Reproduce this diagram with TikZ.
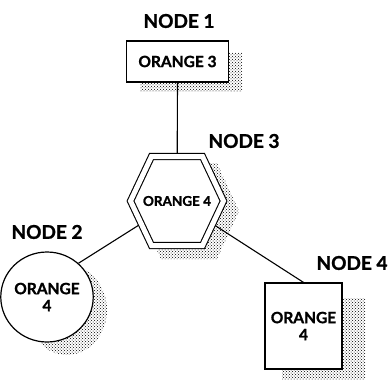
\documentclass[tikz,border=0pt]{standalone}
\usepackage{fontspec}
\setmainfont{Lato}[BoldFeatures={FakeBold=1.2}]
\usetikzlibrary{shapes.geometric,patterns}
\pgfdeclarelayer{shadowl}
\pgfdeclarelayer{linesl}
\pgfsetlayers{shadowl,linesl,main}
\begin{document}
\begin{tikzpicture}[x=1pt,y=-1pt,
  lbl/.style={font=\fontsize{19}{19}\selectfont\bfseries, inner sep=0pt},
  txt/.style={font=\fontsize{15.5}{17}\selectfont\bfseries, align=center},
  shade/.style={pattern=crosshatch dots, pattern color=black},
  box/.style={draw, line width=1.2pt, fill=white, rectangle, txt},
  conn/.style={draw, line width=1.1pt},
  hexs/.style={draw, line width=1.1pt, double=white, double distance=5pt}]
\useasboundingbox (0,0) rectangle (390,385);

% shadows
\begin{pgfonlayer}{shadowl}
  \fill[shade] (140,53) rectangle (242,92);
  \fill[shade] (139,211) -- (161,163) -- (217,163) -- (239,211) -- (217,259) -- (161,259) -- cycle;
  \fill[shade] (67,310) ellipse [x radius=40, y radius=45];
  \fill[shade] (282,298) rectangle (365,379);
\end{pgfonlayer}

% hexagon
\coordinate (hc) at (177,201);
\draw[hexs, fill=white] (130.5,201) -- (151.5,156.5) -- (202.5,156.5) -- (223.5,201) -- (202.5,245.5) -- (151.5,245.5) -- cycle;
\node[txt, font=\fontsize{13.5}{15}\selectfont\bfseries, inner sep=0pt] (hex) at (hc) {ORANGE 4};

% nodes
\node[box, minimum width=102pt, minimum height=41pt] (n1) at (177.5,61.5) {ORANGE 3};
\node[draw, line width=1.2pt, fill=white, ellipse, minimum width=80pt, minimum height=90pt, inner sep=0pt, txt] (n2) at (47,297) {ORANGE\\4};
\node[box, minimum width=77pt, minimum height=86pt, inner sep=0pt] (n4) at (303.5,326) {ORANGE\\4};

% labels
\node[lbl] (l1) at (179,21) {NODE 1};
\node[lbl] (l3) at (244,141) {NODE 3};
\node[lbl] (l2) at (47,232) {NODE 2};
\node[lbl] (l4) at (352,263) {NODE 4};

% connectors
\begin{pgfonlayer}{linesl}
  \draw[conn] (n1.south) -- (hex.center);
  \draw[conn] (hex.center) -- (n2.47);
  \draw[conn] (hex.center) -- (n4.north);
\end{pgfonlayer}
\end{tikzpicture}
\end{document}
